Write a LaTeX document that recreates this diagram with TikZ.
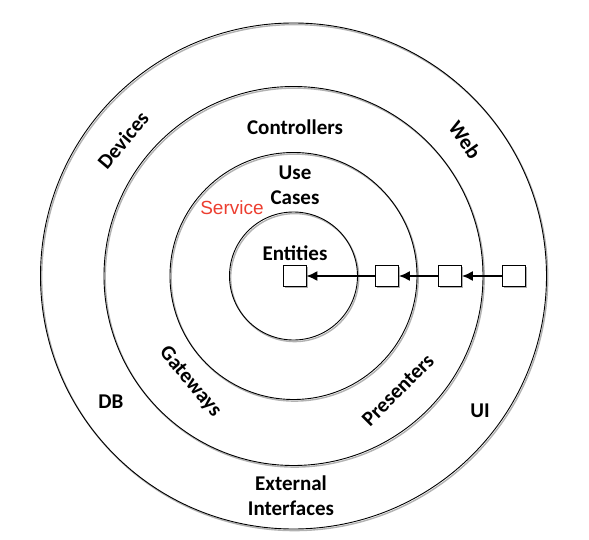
\documentclass[tikz,border=0pt]{standalone}
\usepackage{fontspec}
\setmainfont{Carlito}
\newfontfamily\servicefont{Liberation Sans}
\usepackage{xcolor}
\definecolor{servicered}{RGB}{236,62,48}
\usetikzlibrary{arrows.meta,shadows,calc}

\begin{document}
\begin{tikzpicture}[
  x=1pt, y=-1pt,
  ring/.style={circle, draw, line width=0.9pt, inner sep=0pt},
  ringshade/.style={circle, draw=black!30, line width=1.4pt, inner sep=0pt},
  lbl/.style={font=\fontsize{21}{25}\selectfont\bfseries, align=center, inner sep=1pt},
  sbox/.style={draw, fill=white, line width=0.8pt, minimum width=23pt, minimum height=21pt, inner sep=0pt,
    drop shadow={shadow xshift=1.8pt, shadow yshift=-1.8pt, fill=black!45, opacity=0.7}},
  dep/.style={-{Latex[length=11pt,width=10pt]}, line width=1.6pt},
]
\useasboundingbox (0,0) rectangle (589,540);
\coordinate (c) at (293.5,276);
% === Rings ===
\foreach \r/\nm in {253/outer, 189.5/ifc, 123.5/uc, 64/ent} {
  \node[ringshade, minimum size=2*\r pt] at ($(c)+(1.2,1.6)$) {};
  \node[ring, minimum size=2*\r pt] (\nm) at (c) {};
}
% === Labels ===
\node[lbl, rotate=50] (devices) at (123,140) {Devices};
\node[lbl, rotate=-55] (web) at (465,140) {Web};
\node[lbl] (ctrl) at (295,127) {Controllers};
\node[lbl] (usecases) at (295,185.5) {Use\\Cases};
\node[font=\fontsize{19}{22}\selectfont\servicefont, text=servicered, inner sep=1pt] (service) at (232,208) {Service};
\node[lbl] (entities) at (295,253) {Entities};
\node[lbl, rotate=-50] (gateways) at (190,382) {Gateways};
\node[lbl, rotate=45] (presenters) at (398,390) {Presenters};
\node[lbl] (db) at (111,402) {DB};
\node[lbl] (ui) at (480,411) {UI};
\node[lbl] (extif) at (291,496) {External\\Interfaces};
% === Dependency chain ===
\node[sbox] (b1) at (294.5,276) {};
\node[sbox] (b2) at (387,276) {};
\node[sbox] (b3) at (450,276) {};
\node[sbox] (b4) at (513.5,276) {};
\draw[dep] (b4) -- (b3);
\draw[dep] (b3) -- (b2);
\draw[dep] (b2) -- (b1);
\end{tikzpicture}
\end{document}
